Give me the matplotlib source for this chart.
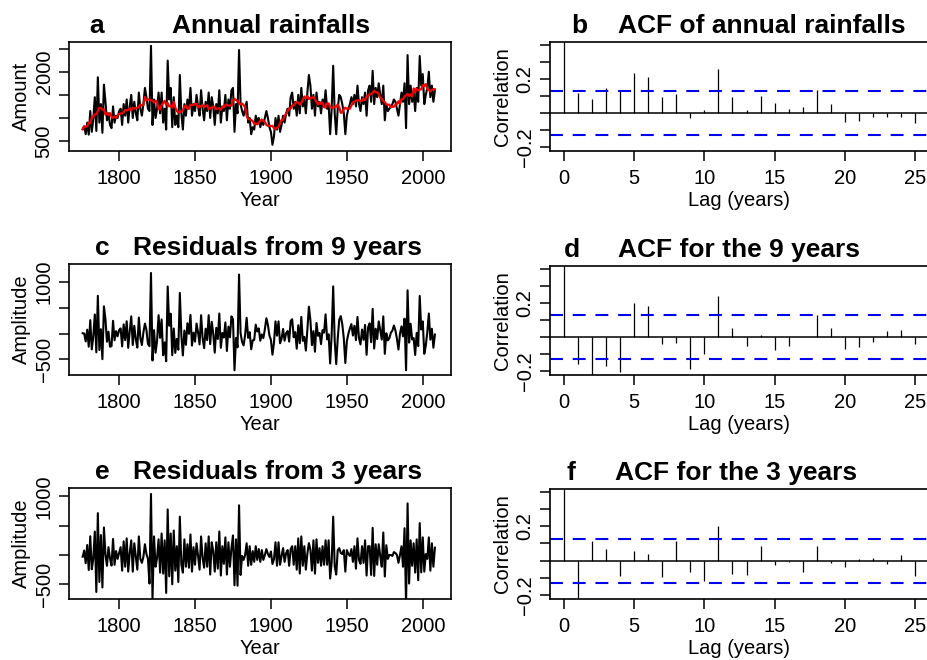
import numpy as np
import pandas as pd
import matplotlib
matplotlib.use("Agg")
import matplotlib.pyplot as plt

plt.rcParams['font.family'] = ['Liberation Sans', 'DejaVu Sans']

# annual rainfall, 1776 onwards
rain = [
    760, 820, 650, 900, 640, 1150, 700, 980, 1450, 720,
    1880, 900, 1300, 680, 1720, 1350, 950, 1100, 850, 780,
    1250, 900, 1050, 1000, 1150, 1200, 850, 1300, 1050, 1400,
    900, 1250, 1500, 1000, 1350, 1100, 950, 1550, 1200, 1050,
    1300, 1650, 1450, 1200, 1150, 2560, 850, 1400, 1000, 1200,
    1550, 1100, 1550, 900, 1200, 750, 2240, 1400, 1650, 800,
    1450, 850, 1050, 800, 1930, 1100, 750, 1300, 1050, 1400,
    1200, 1650, 1050, 1300, 1150, 1500, 1250, 1050, 1600, 1200,
    950, 1350, 1150, 1550, 1000, 1450, 1250, 850, 1300, 1100,
    1600, 900, 1250, 1150, 1500, 950, 1400, 1200, 1600, 1650,
    700, 1300, 1100, 2470, 1300, 1150, 1050, 1200, 1350, 900,
    1000, 650, 800, 750, 1050, 900, 1000, 800, 950, 850,
    1000, 1150, 1000, 800, 700, 420, 600, 1000, 750, 1050,
    700, 850, 1050, 900, 1100, 1200, 1050, 1450, 1550, 1200,
    1350, 1050, 1500, 1100, 1650, 1250, 1400, 1100, 1550, 1930,
    1700, 1200, 1500, 1050, 1550, 1250, 1350, 1100, 1400, 1250,
    1600, 1200, 1300, 650, 1200, 2130, 1100, 650, 1200, 1500,
    1450, 1300, 1100, 650, 1050, 1200, 1300, 1450, 1300, 1500,
    1250, 1700, 1300, 1150, 1450, 1300, 1550, 1050, 1600, 1700,
    1350, 2020, 1300, 1650, 1450, 1750, 1500, 1300, 1700, 950,
    1300, 1150, 1200, 1250, 1300, 1400, 1350, 1200, 1050, 1300,
    1550, 1350, 1750, 780, 2360, 1300, 1700, 1350, 1550, 1150,
    1650, 1350, 2340, 1700, 1950, 1300, 1500, 1650, 2000, 1450,
    1700, 1350, 1600,
]
start_year = 1776

lags = list(range(26))
acf_rain = [1.0, 0.117, 0.084, 0.146, 0.13, 0.236, 0.21, 0.095, 0.11, -0.03,
            0.02, 0.26, 0.095, 0.02, 0.10, 0.06, 0.025, 0.037, 0.137, 0.05,
            -0.053, -0.05, -0.022, -0.025, -0.022, -0.06]
acf_res9 = [1.0, -0.16, -0.25, -0.17, -0.205, 0.20, 0.18, -0.04, -0.033, -0.19,
            -0.10, 0.24, 0.05, -0.055, 0.014, -0.076, -0.055, -0.003, 0.127, 0.05,
            -0.072, -0.06, -0.03, 0.033, 0.04, -0.043]
acf_res3 = [1.0, -0.25, 0.115, 0.07, -0.09, 0.055, 0.037, -0.097, 0.115, -0.064,
            -0.12, 0.20, -0.08, -0.084, 0.088, -0.027, -0.01, -0.064, 0.084, -0.016,
            -0.04, 0.008, 0.018, -0.018, 0.033, -0.088]

years = np.arange(start_year, start_year + len(rain))
s = pd.Series(rain, dtype=float)
ma9 = s.rolling(9, center=True, min_periods=1).mean().values
ma3 = s.rolling(3, center=True, min_periods=1).mean().values
res9 = s.values - ma9
res3 = s.values - ma3
ci = 1.96 / np.sqrt(len(rain))

W, H = 928, 660
fig = plt.figure(figsize=(W / 100, H / 100), dpi=100)


def px_axes(x0, y0, x1, y1):
    return fig.add_axes([x0 / W, 1 - y1 / H, (x1 - x0) / W, (y1 - y0) / H])


FS = 14.5


def style(ax):
    for sp in ax.spines.values():
        sp.set_linewidth(1.2)
    ax.tick_params(direction='out', length=7, width=1.1, labelsize=FS, pad=4)
    ax.tick_params(axis='x', pad=6)
    for lab in ax.get_yticklabels():
        lab.set_rotation(90)
        lab.set_va('center')


def titles(ax, letter, text, fl, ft):
    ax.annotate(letter, xy=(fl, 1), xycoords='axes fraction', xytext=(0, 6.5),
                textcoords='offset points', ha='center', va='baseline',
                fontsize=19, fontweight='bold')
    ax.annotate(text, xy=(ft, 1), xycoords='axes fraction', xytext=(0, 6.5),
                textcoords='offset points', ha='center', va='baseline',
                fontsize=19, fontweight='bold')


def ts_panel(ax, y, ylim, yticks, ylabels, ylab):
    ax.plot(years, y, color='black', lw=1.5)
    ax.set_xlim(1767, 2018.6)
    ax.set_ylim(*ylim)
    ax.set_xticks([1800, 1850, 1900, 1950, 2000])
    ax.set_yticks(yticks)
    ax.set_yticklabels(ylabels)
    ax.set_xlabel('Year', fontsize=FS, labelpad=2)
    ax.set_ylabel(ylab, fontsize=FS, labelpad=2.5)
    style(ax)


def acf_panel(ax, vals):
    ax.vlines(lags, 0, vals, color='black', lw=0.9)
    ax.axhline(0, color='black', lw=1.1)
    for c in (ci, -ci):
        ax.axhline(c, color='#0000ee', lw=1.5, linestyle=(0, (6.2, 4.7)))
    ax.set_xlim(-1, 26)
    ax.set_ylim(-0.224, 0.418)
    ax.set_xticks([0, 5, 10, 15, 20, 25])
    ax.set_yticks([-0.2, -0.1, 0.0, 0.1, 0.2, 0.3, 0.4])
    ax.set_yticklabels(['\u22120.2', '', '', '', '0.2', '', ''])
    ax.set_xlabel('Lag (years)', fontsize=FS, labelpad=2)
    ax.set_ylabel('Correlation', fontsize=FS, labelpad=3)
    style(ax)


# left column: series
ax_a = px_axes(69, 42, 451, 151)
ts_panel(ax_a, rain, (286, 2643), [500, 1000, 1500, 2000, 2500],
         ['500', '', '', '2000', ''], 'Amount')
ax_a.plot(years, ma9, color='#ee0000', lw=1.6)
titles(ax_a, 'a', 'Annual rainfalls', 0.073, 0.529)

ax_c = px_axes(69, 264, 451, 375)
ts_panel(ax_c, res9, (-805, 1350), [-500, 0, 500, 1000],
         ['\u2212500', '', '', '1000'], 'Amplitude')
titles(ax_c, 'c', 'Residuals from 9 years', 0.086, 0.546)

ax_e = px_axes(69, 488, 451, 599)
ts_panel(ax_e, res3, (-750, 1142), [-500, 0, 500, 1000],
         ['\u2212500', '', '', '1000'], 'Amplitude')
titles(ax_e, 'e', 'Residuals from 3 years', 0.086, 0.546)

# right column: autocorrelations
ax_b = px_axes(550, 42, 929, 151)
acf_panel(ax_b, acf_rain)
titles(ax_b, 'b', 'ACF of annual rainfalls', 0.077, 0.558)

ax_d = px_axes(550, 266, 929, 375)
acf_panel(ax_d, acf_res9)
titles(ax_d, 'd', 'ACF for the 9 years', 0.058, 0.499)

ax_f = px_axes(550, 489, 929, 599)
acf_panel(ax_f, acf_res3)
titles(ax_f, 'f', 'ACF for the 3 years', 0.055, 0.491)

fig.savefig('out.png', dpi=100)
